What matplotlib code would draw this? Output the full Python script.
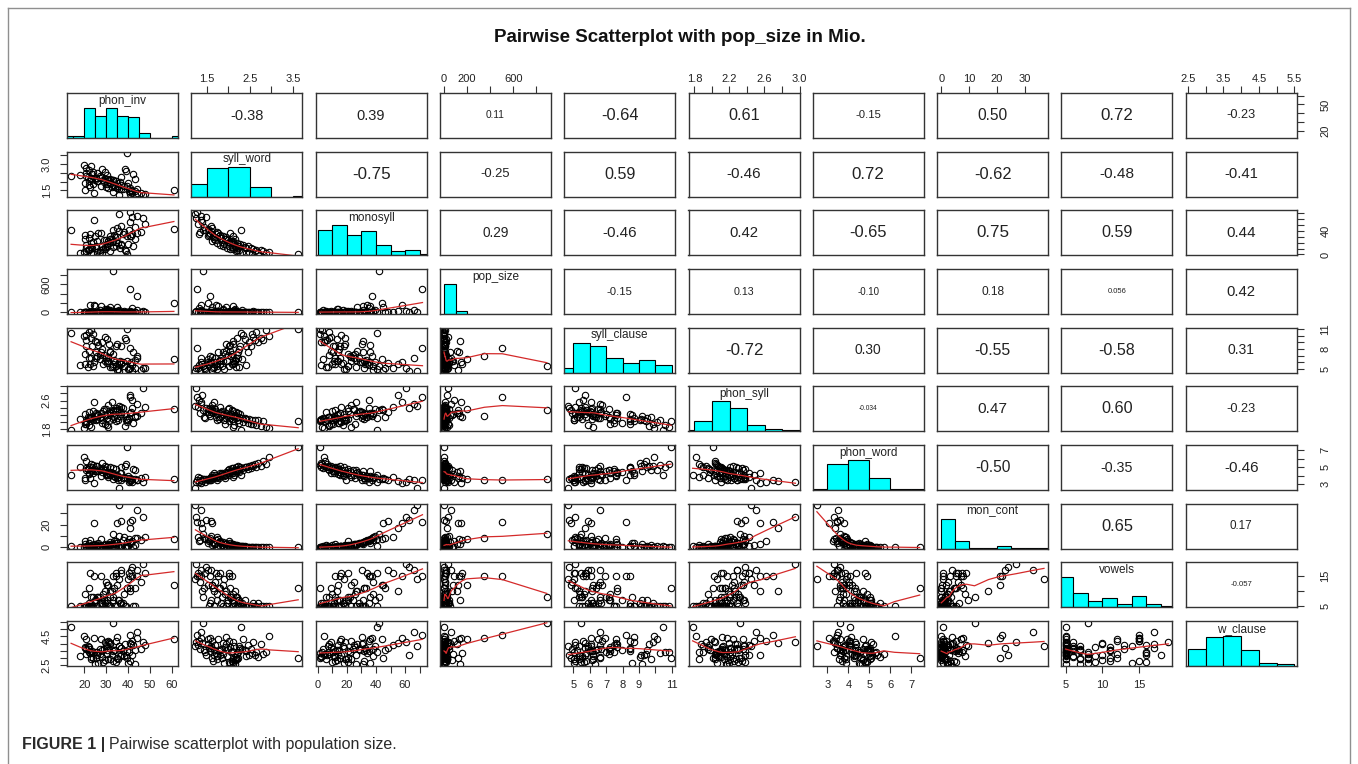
import numpy as np
import matplotlib.pyplot as plt
from matplotlib.lines import Line2D

plt.rcParams['font.family'] = 'sans-serif'
plt.rcParams['font.sans-serif'] = ['Liberation Sans', 'DejaVu Sans']

var_names = ['phon_inv', 'syll_word', 'monosyll', 'pop_size', 'syll_clause',
             'phon_syll', 'phon_word', 'mon_cont', 'vowels', 'w_clause']

# one value per language (85 languages), same order in every list
phon_inv = [41, 33, 61, 48, 47, 46, 44, 43, 42, 42, 41, 40.5, 24.5, 37, 36,
            37.5, 41.5, 34.8, 20.5, 44, 32.5, 36, 41, 31, 22.5, 34, 38, 30.1, 39.5, 35.5, 27.5, 22, 37, 31.8, 33.5,
            24, 20.3, 30.5, 35.2, 40.2, 29, 32, 36.5, 26, 34.5, 30.8, 22, 33, 29.5, 31.5, 27, 30.3, 23, 28, 25.5,
            34.5, 26.5, 33, 24.8, 28.5, 43, 32, 23, 25.2, 21.5, 37, 14, 27, 21, 30.5, 18, 23.5, 42.5, 26, 20.8,
            24, 29.5, 39, 22, 28, 38.5, 21, 23, 20.1, 39.5]
syll_word = [1.28, 1.42, 1.52, 1.30, 1.25, 1.35, 1.38, 1.45, 1.33, 1.48, 1.40, 1.46, 1.36, 1.60, 1.24,
             1.57, 1.52, 1.62, 1.55, 1.58, 1.67, 1.60, 1.65, 1.63, 1.72, 1.68, 1.75, 1.70, 1.78, 1.73, 1.76, 1.83, 1.80, 1.87, 1.82,
             1.85, 1.92, 1.88, 1.95, 1.90, 1.99, 1.94, 1.97, 2.06, 2.02, 2.10, 2.04, 2.08, 2.16, 2.12, 2.20, 2.14, 2.18, 2.25, 2.22,
             2.02, 2.05, 2.08, 2.10, 2.12, 2.15, 2.18, 2.20, 2.22, 2.25, 2.28, 2.30, 2.32, 2.35, 2.38, 2.40, 2.42, 2.45, 2.48, 2.52,
             2.55, 2.58, 2.62, 2.65, 2.70, 2.75, 2.80, 2.88, 2.95, 3.62]
monosyll = [72, 42, 44, 52, 61, 38, 66, 46, 35, 63, 55, 41, 58, 48, 68,
            35, 30.5, 45, 32.5, 37, 26, 39, 31.5, 22.5, 34, 29, 38, 25, 32, 19.5, 36, 28, 16, 31, 33,
            21, 25.5, 14, 30.2, 18, 24, 27, 11, 22, 15, 23, 9, 20.5, 13, 19, 8, 17, 12, 14.5, 10.5,
            21, 36, 12, 31, 9.5, 26, 5.5, 19, 15, 7, 18, 41, 3.5, 16, 13, 2.5, 11.5, 14, 4.5, 10.5,
            1.3, 9, 6, 8, 2, 7.5, 5, 3, 4, 1.5]
pop_size = [505, 890, 196, 12, 35, 8, 60, 3, 90, 1.5, 25, 5, 150, 18, 2,
            15, 4, 120, 0.8, 350, 7, 45, 2.5, 10, 160, 1.2, 30, 6, 0.3, 22, 130, 3, 9, 55, 1,
            14, 0.5, 75, 5, 2, 18, 110, 0.7, 11, 4.5, 28, 1.5, 8, 65, 0.2, 3.5, 40, 12, 2, 6.5,
            20, 2, 0.8, 140, 5, 0.3, 25, 1.5, 8, 0.2, 3.5, 3, 45, 0.6, 18, 1, 7, 0.4, 14, 2.5,
            0.9, 35, 0.15, 4, 9, 0.7, 1.8, 6, 0.5, 0.5]
syll_clause = [8.2, 5.45, 6.5, 5.1, 5.1, 4.9, 6.6, 5.2, 5.6, 4.75, 5.7, 5.05, 6.1, 5.9, 4.7,
               6.12, 6.05, 4.89, 5.74, 6.95, 5.34, 6.08, 5.1, 6.76, 5.76, 6.01, 5.43, 6.63, 6.14, 5.02, 7.57, 6.68, 5.72, 7.57, 6.41,
               5.51, 7.26, 6.20, 8.68, 5.04, 7.16, 7.66, 6.21, 7.02, 8.48, 6.20, 7.65, 7.24, 6.16, 8.69, 7.15, 5.92, 6.65, 7.99, 7.50,
               5.49, 8.55, 5.78, 9.2, 5.68, 6.32, 5.37, 9.7, 6.62, 5.36, 8.48, 10.47, 6.49, 10.1, 9.5, 5.55, 8.47, 7.49, 9.1, 8.45,
               10.3, 9.85, 9.3, 10.6, 9.05, 9.6, 9.4, 10.8, 9.9, 10.95]
phon_syll = [2.7, 2.32, 2.35, 2.42, 2.95, 2.25, 2.5, 2.15, 2.62, 2.38, 2.75, 2.1, 2.55, 2.28, 2.45,
             2.38, 2.29, 2.33, 2.22, 2.17, 2.55, 2.37, 2.25, 2.48, 2.13, 2.30, 2.21, 2.36, 2.09, 2.04, 2.24, 2.28, 2.42, 2.19, 2.15,
             2.31, 1.95, 2.23, 2.11, 2.06, 2.35, 2.26, 2.16, 2.21, 2.02, 1.85, 2.12, 2.08, 2.18, 2.03, 2.14, 1.90, 2.10, 1.98, 2.05,
             2.38, 2.19, 2.34, 2.17, 2.3, 2.16, 2.27, 2.14, 2.24, 2.13, 2.21, 1.78, 2.12, 1.99, 2.1, 2.09, 2.08, 1.97, 2.07, 1.95,
             2.06, 1.93, 2.05, 1.9, 2.04, 1.88, 2.03, 1.85, 1.82, 2.01]
phon_word = [3.46, 3.6, 3.6, 3.85, 3.3, 3.7, 3.5, 3.6, 3.25, 3.6, 3.35, 3.3, 3.1, 3.45, 2.5,
             3.74, 3.48, 3.77, 3.44, 3.43, 4.26, 3.79, 3.71, 4.04, 3.66, 3.86, 3.87, 4.02, 3.72, 3.53, 3.94, 4.17, 4.36, 4.10, 3.91,
             4.27, 3.74, 4.19, 4.11, 3.91, 4.68, 4.38, 4.26, 4.55, 4.08, 3.89, 4.32, 4.33, 4.71, 4.30, 4.71, 4.07, 4.58, 4.46, 4.55,
             4.81, 4.49, 4.87, 4.56, 4.88, 4.64, 5.05, 4.71, 5.1, 4.79, 5.04, 4.09, 4.92, 4.68, 5.02, 5.02, 5.03, 4.83, 5.13, 4.91,
             5.25, 5.08, 5.37, 5.04, 5.51, 5.17, 5.68, 5.33, 6.2, 7.4]
mon_cont = [22, 12, 7, 9, 27, 6, 33, 8, 5.5, 24, 17, 7.5, 21, 23, 37,
            6.5, 4, 21, 5.2, 8, 2.8, 9.5, 4.5, 1.8, 6, 3.5, 8.5, 2.3, 4.8, 1, 7, 3.2, 0.5, 4.2, 5.5,
            1.5, 2.5, 0.2, 3.8, 0.8, 2, 3, 0, 1.5, 0.5, 2, 0, 1.2, 0, 1, 0, 0.6, 0, 0.3, 0,
            5.5, 3.5, 3, 2.5, 2, 2, 1.5, 1.5, 1.2, 1, 1, 0.8, 0.7, 0.5, 0.5, 0.4, 0.3, 0.2, 0.2, 0.1,
            0, 0, 0, 0, 0, 0, 0, 0, 0, 0]
vowels = [15, 8, 12, 16, 19, 13, 17, 11, 15, 18, 10, 16, 15, 17, 14,
          6, 17, 12, 5, 15, 10, 7, 11, 12, 16, 5, 9, 13, 11, 7, 15, 6, 16, 5, 11,
          8, 9, 12, 5, 14, 7, 10, 6, 8, 15, 5, 11, 7, 10, 5, 8, 6, 8, 7, 5,
          16, 8, 15, 7, 9, 5, 8, 5, 7, 5, 6, 5, 6, 5, 7, 5, 5, 5, 5, 5,
          5, 6, 5, 5, 6, 5, 5, 5, 5, 11]
w_clause = [4.6, 5.45, 4.3, 3.9, 4.1, 3.6, 4.8, 3.55, 4.2, 3.2, 4.05, 3.4, 4.4, 3.7, 3.8,
            3.51, 3.98, 3.02, 3.7, 4.4, 3.2, 3.8, 2.75, 4.15, 3.35, 3.58, 3.1, 3.9, 3.45, 2.9, 4.3, 3.65, 3.18, 4.05, 3.52,
            2.98, 3.78, 3.3, 4.45, 2.65, 3.6, 3.95, 3.15, 3.4, 4.2, 2.95, 3.75, 3.48, 2.85, 4.1, 3.25, 3.85, 3.05, 3.55, 3.38,
            2.72, 2.62, 2.78, 2.55, 2.68, 2.58, 2.9, 2.95, 2.98, 3.8, 3.72, 5.15, 3.65, 4.3, 3.55, 3.12, 3.48, 3.9, 3.22, 3.6,
            3.32, 4.1, 3.18, 3.38, 3.08, 3.95, 3.28, 3.42, 4.55, 3.02]

# correlation labels of the upper panels, row by row
cor_labels = [
    ['-0.38', '0.39', '0.11', '-0.64', '0.61', '-0.15', '0.50', '0.72', '-0.23'],
    ['-0.75', '-0.25', '0.59', '-0.46', '0.72', '-0.62', '-0.48', '-0.41'],
    ['0.29', '-0.46', '0.42', '-0.65', '0.75', '0.59', '0.44'],
    ['-0.15', '0.13', '-0.10', '0.18', '0.056', '0.42'],
    ['-0.72', '0.30', '-0.55', '-0.58', '0.31'],
    ['-0.034', '0.47', '0.60', '-0.23'],
    ['-0.50', '-0.35', '-0.46'],
    ['0.65', '0.17'],
    ['-0.057'],
]

# histogram breaks of the diagonal panels
hist_breaks = [
    [10, 15, 20, 25, 30, 35, 40, 45, 50, 55, 60, 65],
    [1.0, 1.5, 2.0, 2.5, 3.0, 3.5, 4.0],
    [0, 10, 20, 30, 40, 50, 60, 70, 80],
    [0, 100, 200, 300, 400, 500, 600, 700, 800, 900],
    [4, 5, 6, 7, 8, 9, 10, 11],
    [1.6, 1.8, 2.0, 2.2, 2.4, 2.6, 2.8, 3.0],
    [2, 3, 4, 5, 6, 7, 8],
    [0, 5, 10, 15, 20, 25, 30, 35, 40],
    [4, 6, 8, 10, 12, 14, 16, 18, 20],
    [2.5, 3.0, 3.5, 4.0, 4.5, 5.0, 5.5],
]

# axis ticks; R drops labels that would overlap
tick_pos = [
    [20, 30, 40, 50, 60],
    [1.5, 2.0, 2.5, 3.0, 3.5],
    [0, 10, 20, 30, 40, 50, 60, 70],
    [0, 200, 400, 600, 800],
    [5, 6, 7, 8, 9, 10, 11],
    [1.8, 2.0, 2.2, 2.4, 2.6, 2.8, 3.0],
    [3, 4, 5, 6, 7],
    [0, 10, 20, 30],
    [5, 10, 15],
    [2.5, 3.0, 3.5, 4.0, 4.5, 5.0, 5.5],
]
tick_lab_h = [
    ['20', '30', '40', '50', '60'],
    ['1.5', '', '2.5', '', '3.5'],
    ['0', '', '20', '', '40', '', '60', ''],
    ['0', '200', '', '600', ''],
    ['5', '6', '7', '8', '9', '', '11'],
    ['1.8', '', '2.2', '', '2.6', '', '3.0'],
    ['3', '4', '5', '6', '7'],
    ['0', '10', '20', '30'],
    ['5', '10', '15'],
    ['2.5', '', '3.5', '', '4.5', '', '5.5'],
]
tick_lab_v = [
    ['20', '', '', '50', ''],
    ['1.5', '', '', '3.0', ''],
    ['0', '', '', '', '40', '', '', ''],
    ['0', '', '', '600', ''],
    ['5', '', '', '8', '', '', '11'],
    ['1.8', '', '', '', '2.6', '', ''],
    ['3', '', '5', '', '7'],
    ['0', '', '20', ''],
    ['5', '', '15'],
    ['2.5', '', '', '', '4.5', '', ''],
]

data = [phon_inv, syll_word, monosyll, pop_size, syll_clause,
        phon_syll, phon_word, mon_cont, vowels, w_clause]


def lowess(x, y, f=2/3, n_iter=3):
    x = np.asarray(x, float)
    y = np.asarray(y, float)
    order = np.argsort(x, kind='mergesort')
    x, y = x[order], y[order]
    n = len(x)
    ns = max(2, min(n, int(f * n + 1e-7)))
    fit = np.zeros(n)
    rob = np.ones(n)
    for it in range(n_iter + 1):
        for i in range(n):
            d = np.abs(x - x[i])
            h = np.sort(d)[ns - 1]
            u = d / h if h > 0 else np.zeros(n)
            w = np.where(u < 1, (1 - u ** 3) ** 3, 0.0) * rob
            sw = w.sum()
            if sw <= 0:
                fit[i] = y[i]
                continue
            xm = np.sum(w * x) / sw
            ym = np.sum(w * y) / sw
            sxx = np.sum(w * (x - xm) ** 2)
            slope = np.sum(w * (x - xm) * (y - ym)) / sxx if sxx > 1e-12 else 0.0
            fit[i] = ym + slope * (x[i] - xm)
        if it == n_iter:
            break
        res = y - fit
        s = np.median(np.abs(res))
        if s == 0:
            break
        u = np.clip(res / (6 * s), -1, 1)
        rob = (1 - u ** 2) ** 2
    return x, fit


def rhist(v, edges):
    # right-closed bins like R's hist()
    v = np.asarray(v, float)
    idx = np.searchsorted(edges, v, side='left') - 1
    idx[v == edges[0]] = 0
    return np.bincount(idx, minlength=len(edges) - 1)[:len(edges) - 1]


W, H = 1358, 764
fig = plt.figure(figsize=(W / 100, H / 100), dpi=100)

x0, y0 = 67, 93          # top-left of the first panel (pixels)
pw, ph = 111, 45         # panel size
dx, dy = 124.3, 58.67    # panel pitch
n = len(data)
box_col = '#333333'
txt_col = '#222222'

lims = []
for v in data:
    v = np.asarray(v, float)
    span = v.max() - v.min()
    lims.append((v.min() - 0.04 * span, v.max() + 0.04 * span))

for i in range(n):
    for j in range(n):
        rect = [(x0 + j * dx) / W, 1 - (y0 + i * dy + ph) / H, pw / W, ph / H]
        ax = fig.add_axes(rect)
        ax.set_xlim(lims[j])
        if i == j:
            edges = np.array(hist_breaks[i], float)
            cnt = rhist(data[i], edges)
            ax.bar(edges[:-1], cnt / cnt.max(), width=np.diff(edges), align='edge',
                   color='cyan', edgecolor='black', linewidth=0.8)
            ax.set_ylim(0, 1.5)
            ax.text(0.5, 0.83, var_names[i], transform=ax.transAxes, ha='center',
                    va='center', fontsize=8.5, color=txt_col)
        elif i > j:
            ax.set_ylim(lims[i])
            ax.plot(data[j], data[i], 'o', mfc='none', mec='black', ms=4.6, mew=0.8)
            sx, sy = lowess(data[j], data[i])
            ax.plot(sx, sy, color='#d42a2a', lw=0.9)
        else:
            ax.set_ylim(lims[i])
            lab = cor_labels[i][j - i - 1]
            r = abs(float(lab))
            fs = max(4.8, 11.2 + 2.6 * np.log(r / 0.5))
            ax.text(0.5, 0.5, lab, transform=ax.transAxes, ha='center', va='center',
                    fontsize=fs, color=txt_col)
        ax.set_xticks([])
        ax.set_yticks([])
        for sp in ax.spines.values():
            sp.set_color(box_col)
            sp.set_linewidth(1.0)

        if (i == 0 and j % 2 == 1) or (i == n - 1 and j % 2 == 0):
            side = 'top' if i == 0 else 'bottom'
            ax.set_xticks(tick_pos[j])
            ax.set_xticklabels(tick_lab_h[j])
            ax.xaxis.set_ticks_position(side)
            ax.tick_params(axis='x', direction='out', length=5, width=0.8, colors=box_col,
                           labelcolor=txt_col, labelsize=8,
                           pad=1.5 if side == 'top' else 5)
        if (j == 0 and i % 2 == 1) or (j == n - 1 and i % 2 == 0):
            side = 'left' if j == 0 else 'right'
            ax.set_yticks(tick_pos[i])
            ax.set_yticklabels(tick_lab_v[i], rotation=90, va='center')
            ax.yaxis.set_ticks_position(side)
            ax.tick_params(axis='y', direction='out', length=5, width=0.8, colors=box_col,
                           labelcolor=txt_col, labelsize=8,
                           pad=6 if side == 'left' else 12)

fig.text(680 / W, 1 - 37 / H, 'Pairwise Scatterplot with pop_size in Mio.',
         ha='center', va='center', fontsize=13.5, fontweight='bold', color='#111111')

# figure frame and caption
frame = '#8f8f8f'
fig.add_artist(Line2D([8 / W, 8 / W], [0, 1 - 8 / H], transform=fig.transFigure, color=frame, lw=1))
fig.add_artist(Line2D([8 / W, 1350 / W], [1 - 8 / H, 1 - 8 / H], transform=fig.transFigure, color=frame, lw=1))
fig.add_artist(Line2D([1350 / W, 1350 / W], [0, 1 - 8 / H], transform=fig.transFigure, color=frame, lw=1))

cap1 = fig.text(22 / W, 1 - 745 / H, 'FIGURE 1 |', ha='left', va='center',
                fontsize=11.5, fontweight='bold', color='#2b2b2b')
renderer = fig.canvas.get_renderer()
bb = cap1.get_window_extent(renderer)
fig.text((bb.x1 + 4) / W, 1 - 745 / H, 'Pairwise scatterplot with population size.',
         ha='left', va='center', fontsize=11.5, color='#2b2b2b')

fig.savefig('out.png', dpi=100)
